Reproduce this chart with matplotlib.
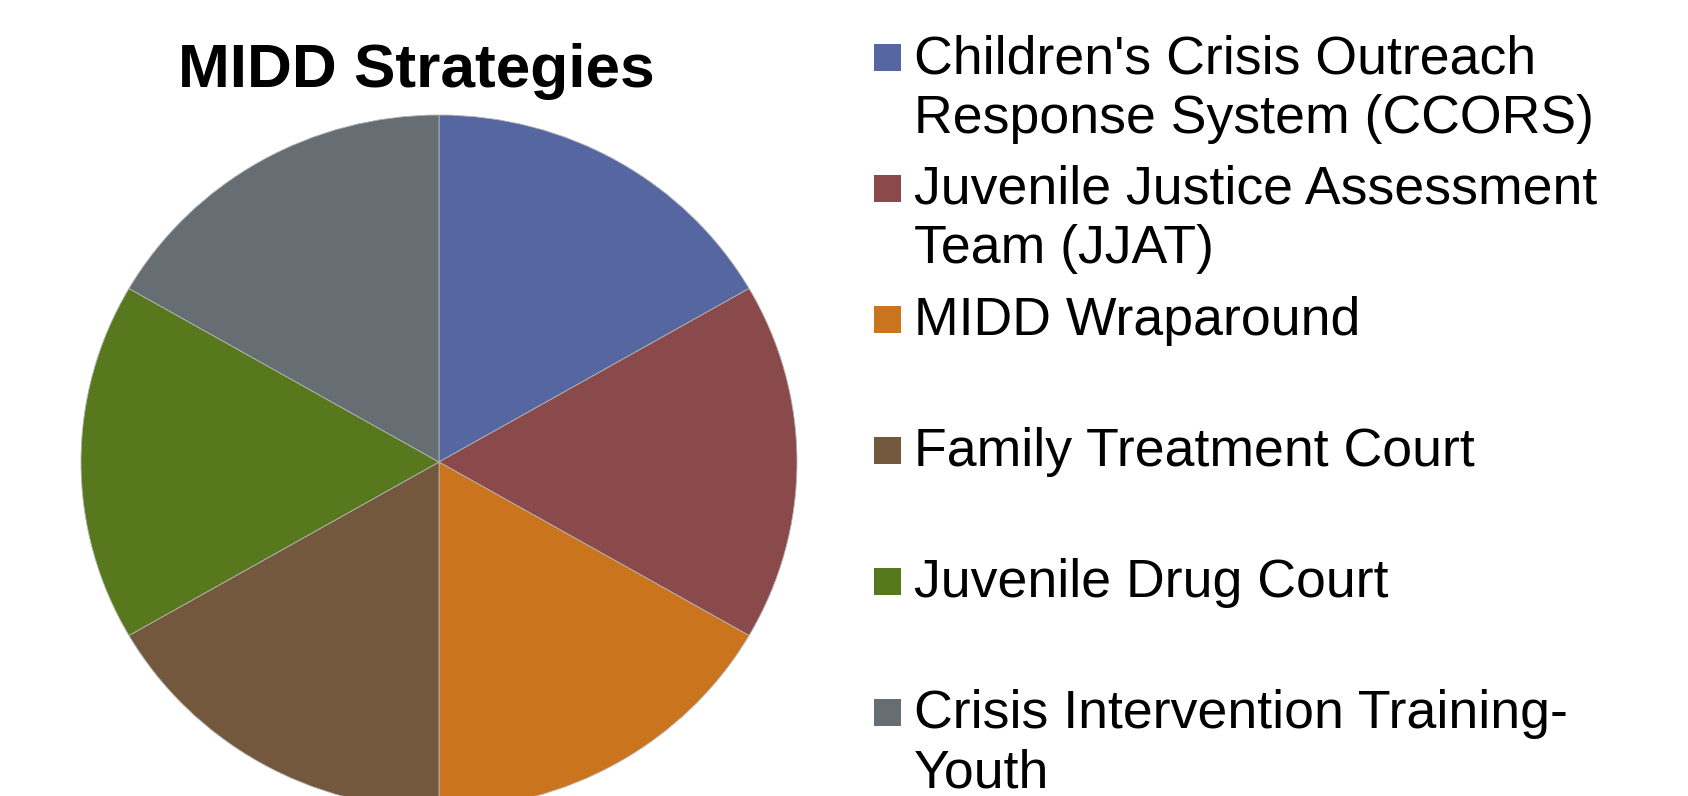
import matplotlib
matplotlib.use("Agg")
import matplotlib.pyplot as plt
from matplotlib.patches import Rectangle

plt.rcParams['font.family'] = ['Liberation Sans', 'DejaVu Sans']

# data
strategies = [
    "Children's Crisis Outreach\nResponse System (CCORS)",
    "Juvenile Justice Assessment\nTeam (JJAT)",
    "MIDD Wraparound",
    "Family Treatment Court",
    "Juvenile Drug Court",
    "Crisis Intervention Training-\nYouth",
]
shares = [1, 1, 1, 1, 1, 1]
colors = ['#5566A0', '#8A4A4B', '#CB741E', '#73583E', '#58781D', '#666E74']

W, H = 1688, 796
fig = plt.figure(figsize=(W / 100, H / 100), dpi=100)


def fx(px):
    return px / W


def fy(py):
    return 1 - py / H


# pie axes, slightly wider than tall like the original
left_px, right_px, top_px, bot_px = 81, 797, 115, 809
ax = fig.add_axes([fx(left_px), fy(bot_px), (right_px - left_px) / W, (bot_px - top_px) / H])
ax.pie(shares, colors=colors, startangle=90, counterclock=False, radius=1,
       wedgeprops=dict(edgecolor='#b4b4b4', linewidth=0.6))
ax.set_aspect('auto')
ax.set_xlim(-1, 1)
ax.set_ylim(-1, 1)
ax.axis('off')

fig.text(fx(416), fy(87.5), "MIDD Strategies", ha='center', va='baseline',
         fontsize=44.8, fontweight='bold')

# legend drawn by hand so the square sits on the first line
for i, (label, c) in enumerate(zip(strategies, colors)):
    base = 73 + 131 * i
    sq = Rectangle((fx(873.5), fy(base - 2.5)), 27 / W, 27 / H,
                   transform=fig.transFigure, facecolor=c, edgecolor='none')
    fig.patches.append(sq)
    for j, line in enumerate(label.split("\n")):
        fig.text(fx(914), fy(base + 59.5 * j), line, ha='left', va='baseline',
                 fontsize=38.6)

fig.savefig("out.png", dpi=100)
